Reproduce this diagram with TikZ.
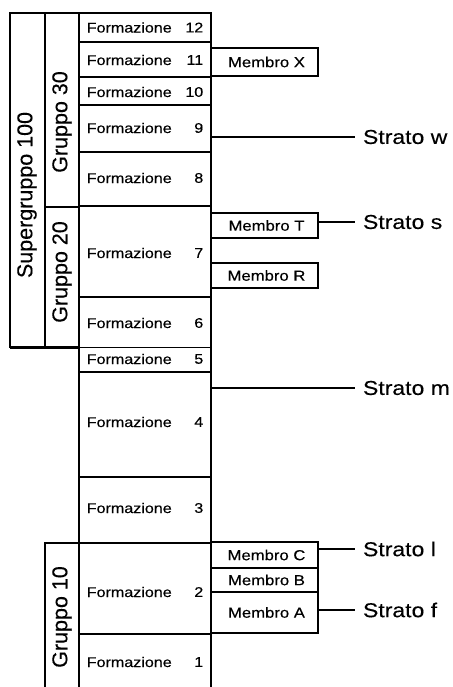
\documentclass[tikz,border=0pt]{standalone}
\usepackage{fontspec}
\setmainfont[FakeBold=0.3]{Liberation Sans}
\newfontfamily\hfont[FakeStretch=1.15,FakeBold=0.3]{Liberation Sans}
\usetikzlibrary{calc}
\begin{document}
\begin{tikzpicture}[x=1pt,y=1pt,line width=1.5pt,
  box/.style={draw,rectangle,outer sep=0pt,inner sep=0pt,anchor=north west},
  ftext/.style={inner sep=0pt,font=\hfont\fontsize{14}{16}\selectfont},
  mtext/.style={font=\hfont\fontsize{14.5}{16}\selectfont},
  rtext/.style={inner sep=0pt,rotate=90,font=\fontsize{21.5}{24}\selectfont},
  stext/.style={inner xsep=8pt,inner ysep=0pt,outer sep=0pt,anchor=west,font=\hfont\fontsize{20}{22}\selectfont},
  heavy/.style={line width=2.8pt}]
\useasboundingbox (0,0) rectangle (452,-687);
% supergroup and groups
\node[box,minimum width=69pt,minimum height=334.5pt] (SG) at (10,-13) {};
\node[box,minimum width=34pt,minimum height=194pt] (G30) at (45,-13) {};
\node[box,minimum width=34pt,minimum height=140.5pt] (G20) at (45,-207) {};
\node[rtext] (SGl) at (27,-195) {Supergruppo 100};
\node[rtext] (G30l) at (62,-122) {Gruppo 30};
\node[rtext] (G20l) at (62,-272) {Gruppo 20};
\node[box,draw=none,minimum width=34pt,minimum height=144pt] (G10) at (45,-543) {};
\draw (G10.south west) -- (G10.north west) -- (G10.north east);
\node[rtext] (G10l) at (62,-617) {Gruppo 10};
\draw[heavy] (SG.south west) -- (SG.south east);
% formations
\foreach \n/\t/\b/\ty in {12/13/42/27.5, 11/42/77/60, 10/77/105/92, 9/105/152/128, 8/152/206/178, 7/206/297/253, 6/297/347.5/323, 5/347.5/372/359, 4/372/477/422, 3/477/543/508, 2/543/634/592}{
  \node[box,minimum width=132pt,minimum height={(\b-\t)*1pt}] (F\n) at (79,-\t) {};
  \node[ftext,anchor=west] (L\n) at (86,-\ty) {Formazione};
  \node[ftext,anchor=east] (N\n) at (204,-\ty) {\n};
}
\node[box,draw=none,minimum width=132pt,minimum height=53pt] (F1) at (79,-634) {};
\draw (F1.south west) -- (F1.north west) -- (F1.north east) -- (F1.south east);
\node[ftext,anchor=west] (L1) at (86,-662) {Formazione};
\node[ftext,anchor=east] (N1) at (204,-662) {1};
% members
\node[box,minimum width=107pt,minimum height=28pt] (MX) at (211,-48) {};
\node[mtext] at ([xshift=2pt]MX.center) {Membro X};
\node[box,minimum width=107pt,minimum height=25pt] (MT) at (211,-213) {};
\node[mtext] at ([xshift=2pt]MT.center) {Membro T};
\node[box,minimum width=107pt,minimum height=25pt] (MR) at (211,-263) {};
\node[mtext] at ([xshift=2pt]MR.center) {Membro R};
\node[box,minimum width=107pt,minimum height=26pt] (MC) at (211,-542) {};
\node[mtext] at ([xshift=2pt]MC.center) {Membro C};
\node[box,minimum width=107pt,minimum height=24pt] (MB) at (211,-568) {};
\node[mtext] at ([xshift=2pt]MB.center) {Membro B};
\node[box,minimum width=107pt,minimum height=41pt] (MA) at (211,-592) {};
\node[mtext] at ([xshift=2pt]MA.center) {Membro A};
\foreach \m in {MX,MT,MR,MA}{\draw[heavy] (\m.south west) -- (\m.south east);}
% strata
\node[stext] (Sw) at (355,-137) {Strato w};
\node[stext] (Ss) at (355,-222) {Strato s};
\node[stext] (Sm) at (355,-388) {Strato m};
\node[stext] (Sl) at (355,-549) {Strato l};
\node[stext] (Sf) at (355,-610) {Strato f};
\draw (Sw.west -| F9.east) -- (Sw.west);
\draw (Ss.west -| MT.east) -- (Ss.west);
\draw (Sm.west -| F4.east) -- (Sm.west);
\draw (Sl.west -| MC.east) -- (Sl.west);
\draw (Sf.west -| MA.east) -- (Sf.west);
\end{tikzpicture}
\end{document}
